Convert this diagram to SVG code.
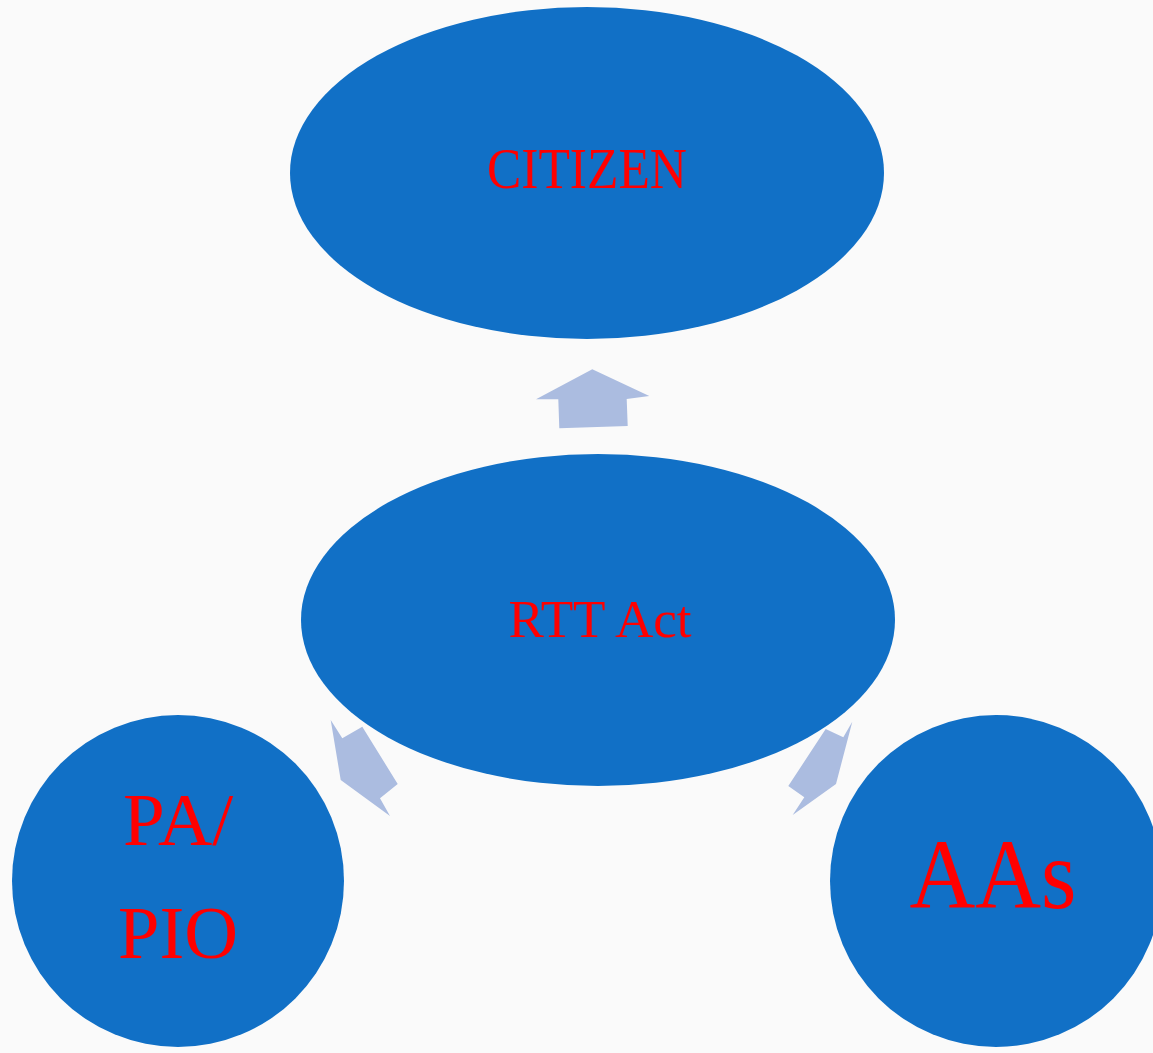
<svg xmlns="http://www.w3.org/2000/svg" width="1153" height="1053" viewBox="0 0 1153 1053">
<style>
.node{fill:#1170C6}
.lbl{fill:#FF0000;font-family:"Liberation Serif","Times New Roman",serif;text-anchor:middle}
.arr{fill:#ABBCE0}
</style>
<rect width="1153" height="1053" fill="#FAFAFA"/>
<g id="connectors">
<polygon class="arr" points="592.3,369.3 649.3,396 626.7,399 627.7,426 559.3,428.3 558.3,399.3 536,399.3"/>
<polygon class="arr" points="330.7,720 342.3,738.3 362.3,726.7 397.7,784 380,798.3 390,816 340.7,780"/>
<polygon class="arr" points="852.3,721.7 843.3,737.3 825.7,729 788.3,786 804.3,797.3 792.7,815 836,784"/>
</g>
<g id="citizen">
<ellipse class="node" cx="587" cy="173" rx="297" ry="166"/>
<text class="lbl" x="587" y="188" font-size="56" textLength="200" lengthAdjust="spacingAndGlyphs">CITIZEN</text>
</g>
<g id="rtt-act">
<ellipse class="node" cx="598" cy="620" rx="297" ry="166"/>
<text class="lbl" x="600" y="637" font-size="53" textLength="183" lengthAdjust="spacingAndGlyphs">RTT Act</text>
</g>
<g id="pa-pio">
<circle class="node" cx="178" cy="881" r="166"/>
<text class="lbl" x="178" y="845" font-size="75" textLength="110" lengthAdjust="spacingAndGlyphs">PA/</text>
<text class="lbl" x="178" y="958" font-size="75" textLength="120" lengthAdjust="spacingAndGlyphs">PIO</text>
</g>
<g id="aas">
<circle class="node" cx="996" cy="881" r="166"/>
<text class="lbl" x="993" y="908" font-size="100" textLength="167" lengthAdjust="spacingAndGlyphs">AAs</text>
</g>
</svg>
